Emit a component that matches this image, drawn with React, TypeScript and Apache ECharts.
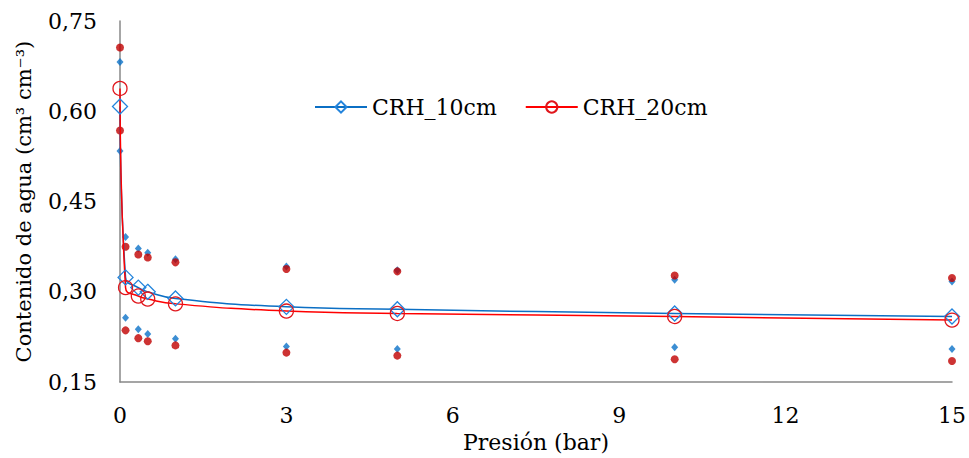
import React, { useEffect, useRef } from "react";
import * as echarts from "echarts";

const pressures = [0, 0.1, 0.33, 0.5, 1, 3, 5, 10, 15];
const crh10Mean = [0.608, 0.324, 0.307, 0.3, 0.289, 0.275, 0.271, 0.264, 0.259];
const crh20Mean = [0.638, 0.307, 0.293, 0.288, 0.28, 0.268, 0.264, 0.259, 0.253];
const crh10Upper = [0.682, 0.391, 0.372, 0.365, 0.354, 0.342, 0.336, 0.32, 0.317];
const crh10Lower = [0.534, 0.257, 0.238, 0.23, 0.222, 0.209, 0.205, 0.208, 0.205];
const crh20Upper = [0.706, 0.375, 0.362, 0.357, 0.349, 0.338, 0.334, 0.327, 0.323];
const crh20Lower = [0.568, 0.236, 0.223, 0.218, 0.211, 0.199, 0.194, 0.188, 0.185];
const seriesNames = ["CRH_10cm", "CRH_20cm"];

const FONT = "DejaVu Serif";
const BLUE_LINE = "#0b6fc4";
const BLUE_MARK = "#2384dc";
const BLUE_DOT = "#0b72c8";
const RED_LINE = "#ff0000";
const RED_MARK = "#e0161c";
const RED_DOT = "#c00000";

const pairs = (ys: number[]) => pressures.map((x, i) => [x, ys[i]]);

export default function App() {
  const ref = useRef<HTMLDivElement>(null);
  useEffect(() => {
    document.body.style.margin = "0";
    if (!ref.current) return;
    const chart = echarts.init(ref.current, undefined, { renderer: "svg", width: 969, height: 458 });
    chart.setOption({
      animation: false,
      backgroundColor: "#ffffff",
      textStyle: { fontFamily: FONT },
      grid: { left: 120, right: 15, top: 21, bottom: 72, containLabel: false },
      legend: {
        data: seriesNames,
        left: 309,
        top: 91,
        itemWidth: 52,
        itemHeight: 14,
        itemGap: 28,
        textStyle: { fontFamily: FONT, fontSize: 22, color: "#000" },
      },
      xAxis: {
        type: "value",
        min: 0,
        max: 15,
        interval: 3,
        name: "Presión (bar)",
        nameLocation: "middle",
        nameGap: 38,
        nameTextStyle: { fontFamily: FONT, fontSize: 22, color: "#000" },
        axisLine: { lineStyle: { color: "#888888", width: 1.5 } },
        axisTick: { show: false },
        splitLine: { show: false },
        axisLabel: { fontFamily: FONT, fontSize: 22, color: "#000", margin: 22 },
      },
      yAxis: {
        type: "value",
        min: 0.15,
        max: 0.75,
        interval: 0.15,
        name: "Contenido de agua (cm³ cm⁻³)",
        nameLocation: "middle",
        nameGap: 86,
        nameTextStyle: { fontFamily: FONT, fontSize: 21, color: "#000" },
        axisLine: { show: true, lineStyle: { color: "#888888", width: 1.5 } },
        axisTick: { show: false },
        splitLine: { show: false },
        axisLabel: {
          fontFamily: FONT,
          fontSize: 22,
          color: "#000",
          margin: 23,
          formatter: (v: number) => v.toFixed(2).replace(".", ","),
        },
      },
      series: [
        {
          type: "scatter",
          data: pairs(crh10Upper),
          symbol: "diamond",
          symbolSize: [7, 8],
          itemStyle: { color: BLUE_DOT },
          z: 2,
        },
        {
          type: "scatter",
          data: pairs(crh10Lower),
          symbol: "diamond",
          symbolSize: [7, 8],
          itemStyle: { color: BLUE_DOT },
          z: 2,
        },
        {
          type: "scatter",
          data: pairs(crh20Upper),
          symbol: "circle",
          symbolSize: 8,
          itemStyle: { color: RED_DOT },
          z: 2,
        },
        {
          type: "scatter",
          data: pairs(crh20Lower),
          symbol: "circle",
          symbolSize: 8,
          itemStyle: { color: RED_DOT },
          z: 2,
        },
        {
          name: seriesNames[0],
          type: "line",
          data: pairs(crh10Mean),
          smooth: 0.5,
          symbol: "diamond",
          symbolSize: 15,
          showAllSymbol: true,
          lineStyle: { color: BLUE_LINE, width: 1.5 },
          itemStyle: { color: "rgba(255,255,255,0)", borderColor: BLUE_MARK, borderWidth: 1.3 },
          z: 3,
        },
        {
          name: seriesNames[1],
          type: "line",
          data: pairs(crh20Mean),
          smooth: 0.5,
          symbol: "circle",
          symbolSize: 14,
          showAllSymbol: true,
          lineStyle: { color: RED_LINE, width: 1.5 },
          itemStyle: { color: "rgba(255,255,255,0)", borderColor: RED_MARK, borderWidth: 1.3 },
          z: 3,
        },
      ],
    });
    return () => chart.dispose();
  }, []);
  return <div ref={ref} style={{ width: 969, height: 458 }} />;
}
